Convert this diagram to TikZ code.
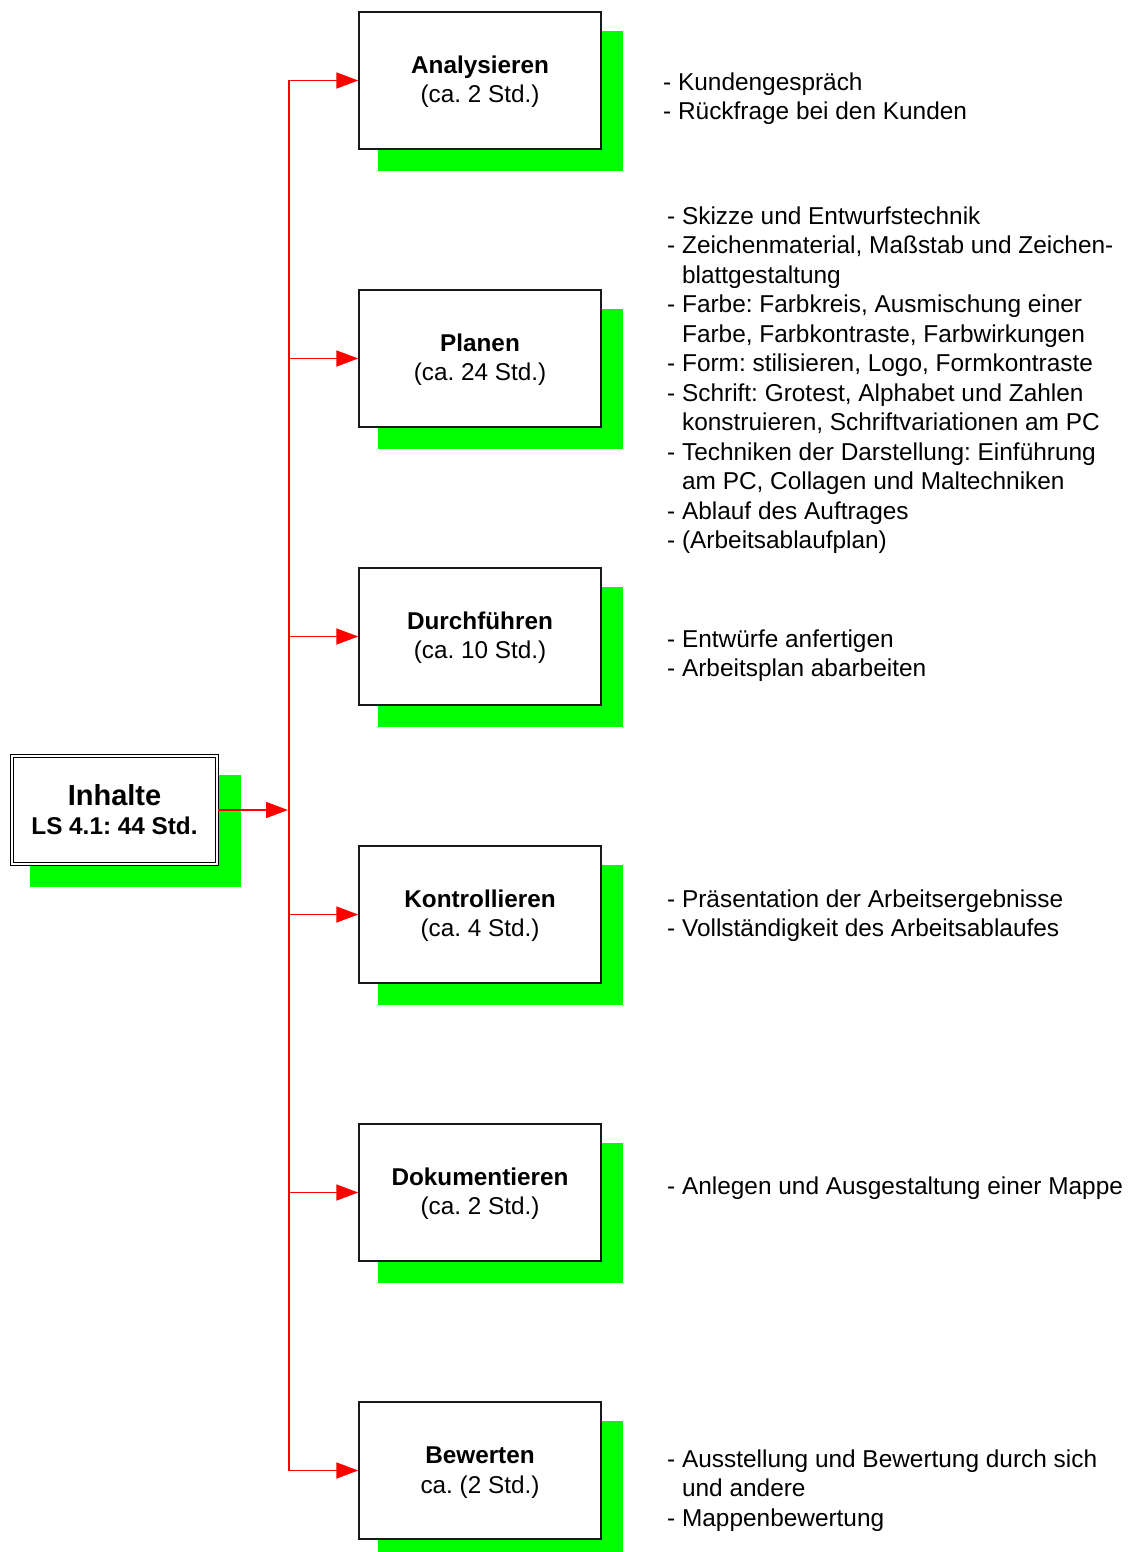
\documentclass[tikz,border=0pt]{standalone}
\usepackage{fontspec}
\setmainfont{Liberation Sans}
\usetikzlibrary{arrows.meta}
\definecolor{shgreen}{RGB}{0,255,0}
\definecolor{linkred}{RGB}{255,0,0}
\newcommand\myind{\phantom{- }}
\newcommand\topstrut{\rule{0pt}{20.5pt}}
\frenchspacing
\tikzset{
  stepbox/.style={draw=black!90, line width=1.5pt, fill=white, minimum width=242pt,
    minimum height=137pt, align=center, inner sep=0pt,
    font=\fontsize{24.3}{29.5}\selectfont\frenchspacing},
  greenshadow/.style={fill=shgreen},
  busline/.style={draw=linkred, line width=1.6pt},
  link/.style={draw=linkred, line width=1.6pt, -{Triangle[length=22pt,width=16pt,fill=linkred]}},
  listtext/.style={anchor=north west, align=left, inner sep=0pt,
    font=\fontsize{24.4}{29.5}\selectfont\frenchspacing}
}
\begin{document}
\begin{tikzpicture}[x=1pt,y=-1pt]
\useasboundingbox (0,0) rectangle (1131,1552);
% shadows
\foreach \t in {11,289,567,845,1123,1401}{
  \fill[greenshadow] (378,\t+20) rectangle (623,\t+160);
}
\fill[greenshadow] (30,775) rectangle (241,887);
% boxes
\node[stepbox] (b1) at (480,80.5) {\topstrut\textbf{Analysieren}\\(ca. 2 Std.)};
\node[stepbox] (b2) at (480,358.5) {\topstrut\textbf{Planen}\\(ca. 24 Std.)};
\node[stepbox] (b3) at (480,636.5) {\topstrut\textbf{Durchführen}\\(ca. 10 Std.)};
\node[stepbox] (b4) at (480,914.5) {\topstrut\textbf{Kontrollieren}\\(ca. 4 Std.)};
\node[stepbox] (b5) at (480,1192.5) {\topstrut\textbf{Dokumentieren}\\(ca. 2 Std.)};
\node[stepbox] (b6) at (480,1470.5) {\topstrut\textbf{Bewerten}\\ca. (2 Std.)};
% root
\node[draw=black, line width=1.3pt, double, double distance=1.6pt, fill=white,
  minimum width=205pt, minimum height=108pt, inner sep=0pt, align=center,
  font=\fontsize{24.3}{29}\selectfont\bfseries\frenchspacing] (root) at (114.5,810)
  {{\fontsize{29}{29}\selectfont Inhalte}\\LS 4.1: 44 Std.};
% bus
\coordinate (bus1) at (289,80.5);
\coordinate (bus2) at (289,358.5);
\coordinate (bus3) at (289,636.5);
\coordinate (bus4) at (289,914.5);
\coordinate (bus5) at (289,1192.5);
\coordinate (bus6) at (289,1470.5);
\coordinate (busin) at (288,810);
\draw[busline] (bus1) -- (bus6);
\foreach \i in {1,...,6}{ \draw[link] (bus\i) -- (b\i.west); }
\draw[link] (root.east) -- (busin);
% lists
\node[listtext] (l1) at (663,72.5) {- Kundengespräch\\- Rückfrage bei den Kunden};
\node[listtext] (l2) at (667,206.5) {- Skizze und Entwurfstechnik\\
- Zeichenmaterial, Maßstab und Zeichen-\\
\myind blattgestaltung\\
- Farbe: Farbkreis, Ausmischung einer\\
\myind Farbe, Farbkontraste, Farbwirkungen\\
- Form: stilisieren, Logo, Formkontraste\\
- Schrift: Grotest, Alphabet und Zahlen\\
\myind konstruieren, Schriftvariationen am PC\\
- Techniken der Darstellung: Einführung\\
\myind am PC, Collagen und Maltechniken\\
- Ablauf des Auftrages\\
- (Arbeitsablaufplan)};
\node[listtext] (l3) at (667,629.5) {- Entwürfe anfertigen\\- Arbeitsplan abarbeiten};
\node[listtext] (l4) at (667,889.5) {- Präsentation der Arbeitsergebnisse\\- Vollständigkeit des Arbeitsablaufes};
\node[listtext] (l5) at (667,1176.5) {- Anlegen und Ausgestaltung einer Mappe};
\node[listtext] (l6) at (667,1449.5) {- Ausstellung und Bewertung durch sich\\\myind und andere\\- Mappenbewertung};
\end{tikzpicture}
\end{document}
